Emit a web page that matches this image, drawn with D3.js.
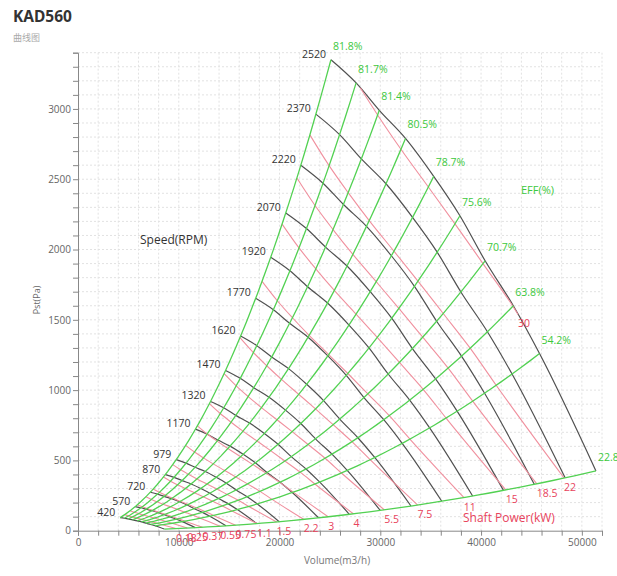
<!DOCTYPE html>
<html><head><meta charset="utf-8">
<script src="https://cdn.jsdelivr.net/npm/d3@7"></script>
<style>
html,body{margin:0;padding:0;background:#fff;}
svg{display:block;font-family:"Open Sans","Noto Sans",sans-serif;}
</style></head>
<body>
<svg id="chart" width="617" height="576"></svg>
<script>
// ---- data ----
const speeds = [420,570,720,870,979,1170,1320,1470,1620,1770,1920,2070,2220,2370,2520];
const baseSpeed = 2520;
// operating points of the 2520 rpm curve
const baseVolume   = [25100,27600,29900,32500,35300,37900,40400,43200,45800,51400];
const basePressure = [3350, 3185, 2990, 2790, 2520, 2240, 1920, 1600, 1260, 425];
const effValues    = [81.8, 81.7, 81.4, 80.5, 78.7, 75.6, 70.7, 63.8, 54.2, 22.8];
const powerValues  = [0.18,0.25,0.37,0.55,0.75,1.1,1.5,2.2,3,4,5.5,7.5,11,15,18.5,22,30];
const xTicks = [0,10000,20000,30000,40000,50000];
const yTicks = [0,500,1000,1500,2000,2500,3000];

const svg = d3.select("#chart");
const x = d3.scaleLinear().domain([0,52000]).range([78,602]);
const y = d3.scaleLinear().domain([0,3400]).range([530.7,52.7]);

const GREEN="#52d152", GREEN_T="#3cc83c", DARK="#505050", PINK="#f0909e", RED="#e8435c";

// title
svg.append("text").attr("x",13).attr("y",22).attr("font-size",15.5).attr("font-weight","bold")
  .attr("fill","#333").attr("font-family","Noto Sans, sans-serif").text("KAD560");
svg.append("text").attr("x",13).attr("y",41).attr("font-size",9).attr("fill","#aaa")
  .attr("font-family","Noto Sans CJK SC, sans-serif").text("曲线图");

// grid
const g = svg.append("g");
const xGrid = d3.range(2000,52001,2000);
const yGrid = d3.range(100,3401,100);
g.selectAll(".gx").data(xGrid).join("line")
  .attr("x1",d=>x(d)).attr("x2",d=>x(d)).attr("y1",y(0)).attr("y2",y(3400))
  .attr("stroke","#e2e2e2").attr("stroke-dasharray","2,2");
g.selectAll(".gy").data(yGrid).join("line")
  .attr("x1",x(0)).attr("x2",x(52000)).attr("y1",d=>y(d)).attr("y2",d=>y(d))
  .attr("stroke","#e2e2e2").attr("stroke-dasharray","2,2");

// axes
const yAxis = d3.axisLeft(y).tickValues(d3.range(0,3401,100)).tickSize(5)
  .tickFormat(d=> yTicks.includes(d)? d : "");
const xAxis = d3.axisBottom(x).tickValues(d3.range(0,52001,2000)).tickSize(5)
  .tickFormat(d=> xTicks.includes(d)? d : "");
const ya = svg.append("g").attr("transform",`translate(${x(0)},0)`).call(yAxis);
const xa = svg.append("g").attr("transform",`translate(0,${y(0)})`).call(xAxis);
[ya,xa].forEach(a=>{
  a.select(".domain").attr("stroke","#888");
  a.selectAll(".tick line").attr("stroke","#888");
  a.selectAll(".tick text").attr("fill","#666").attr("font-size",10)
   .attr("font-family","Open Sans, sans-serif");
});
ya.selectAll(".tick text").attr("x",-7);
xa.selectAll(".tick text").attr("y",8);

svg.append("text").attr("transform","translate(40,300) rotate(-90)").attr("text-anchor","middle")
  .attr("font-size",9).attr("fill","#666").text("Pst(Pa)");
svg.append("text").attr("x",337).attr("y",564).attr("text-anchor","middle")
  .attr("font-size",10).attr("fill","#777").text("Volume(m3/h)");

// derived via fan laws: Q ~ n, P ~ n^2, W ~ n^3
const basePower = baseVolume.map((q,i)=> q/3600*basePressure[i]/(effValues[i]/100)/1000);
const pt = (i,r)=>({q:baseVolume[i]*r, p:basePressure[i]*r*r});

const line = d3.line().x(d=>x(d.q)).y(d=>y(d.p)).curve(d3.curveMonotoneX);

const plot = svg.append("g");

// speed curves
speeds.forEach(n=>{
  const r = n/baseSpeed;
  const pts = baseVolume.map((_,i)=>pt(i,r));
  plot.append("path").attr("d",line(pts)).attr("fill","none").attr("stroke",DARK).attr("stroke-width",1.2);
  plot.append("text").attr("x",x(pts[0].q)-5).attr("y",y(pts[0].p)-2).attr("text-anchor","end")
    .attr("font-size",10.5).attr("fill","#333").text(n);
});

// power curves
powerValues.forEach(w=>{
  const ratio = basePower.map(bw=>Math.cbrt(w/bw));
  const valid = ratio.map(r=>r<=1);
  const pts=[];
  for(let i=0;i<ratio.length;i++){
    if(i>0 && valid[i]!==valid[i-1]){
      const t=(w-basePower[i-1])/(basePower[i]-basePower[i-1]);
      pts.push({q:baseVolume[i-1]+t*(baseVolume[i]-baseVolume[i-1]),
                p:basePressure[i-1]+t*(basePressure[i]-basePressure[i-1])});
    }
    if(valid[i]) pts.push(pt(i,ratio[i]));
  }
  plot.append("path").attr("d",line(pts)).attr("fill","none").attr("stroke",PINK).attr("stroke-width",1.1);
  const last=pts[pts.length-1];
  plot.append("text").attr("x",x(last.q)).attr("y",y(last.p)+13).attr("font-size",10.5)
    .attr("fill",RED).text(w);
});

// efficiency curves
const effLine = d3.line().x(d=>x(d.q)).y(d=>y(d.p));
effValues.forEach((e,i)=>{
  const pts = d3.range(0,41).map(k=>pt(i,(speeds[0]+(baseSpeed-speeds[0])*k/40)/baseSpeed));
  plot.append("path").attr("d",effLine(pts)).attr("fill","none").attr("stroke",GREEN).attr("stroke-width",1.3);
  plot.append("text").attr("x",x(baseVolume[i])+2).attr("y",y(basePressure[i])-10)
    .attr("font-size",10.5).attr("fill",GREEN_T).text(e+"%");
});

svg.append("text").attr("x",140).attr("y",244).attr("font-size",12).attr("fill","#333").text("Speed(RPM)");
svg.append("text").attr("x",521).attr("y",194).attr("font-size",11).attr("fill",GREEN_T).text("EFF(%)");
svg.append("text").attr("x",463).attr("y",522).attr("font-size",12).attr("fill",RED).text("Shaft Power(kW)");
</script>
</body></html>
